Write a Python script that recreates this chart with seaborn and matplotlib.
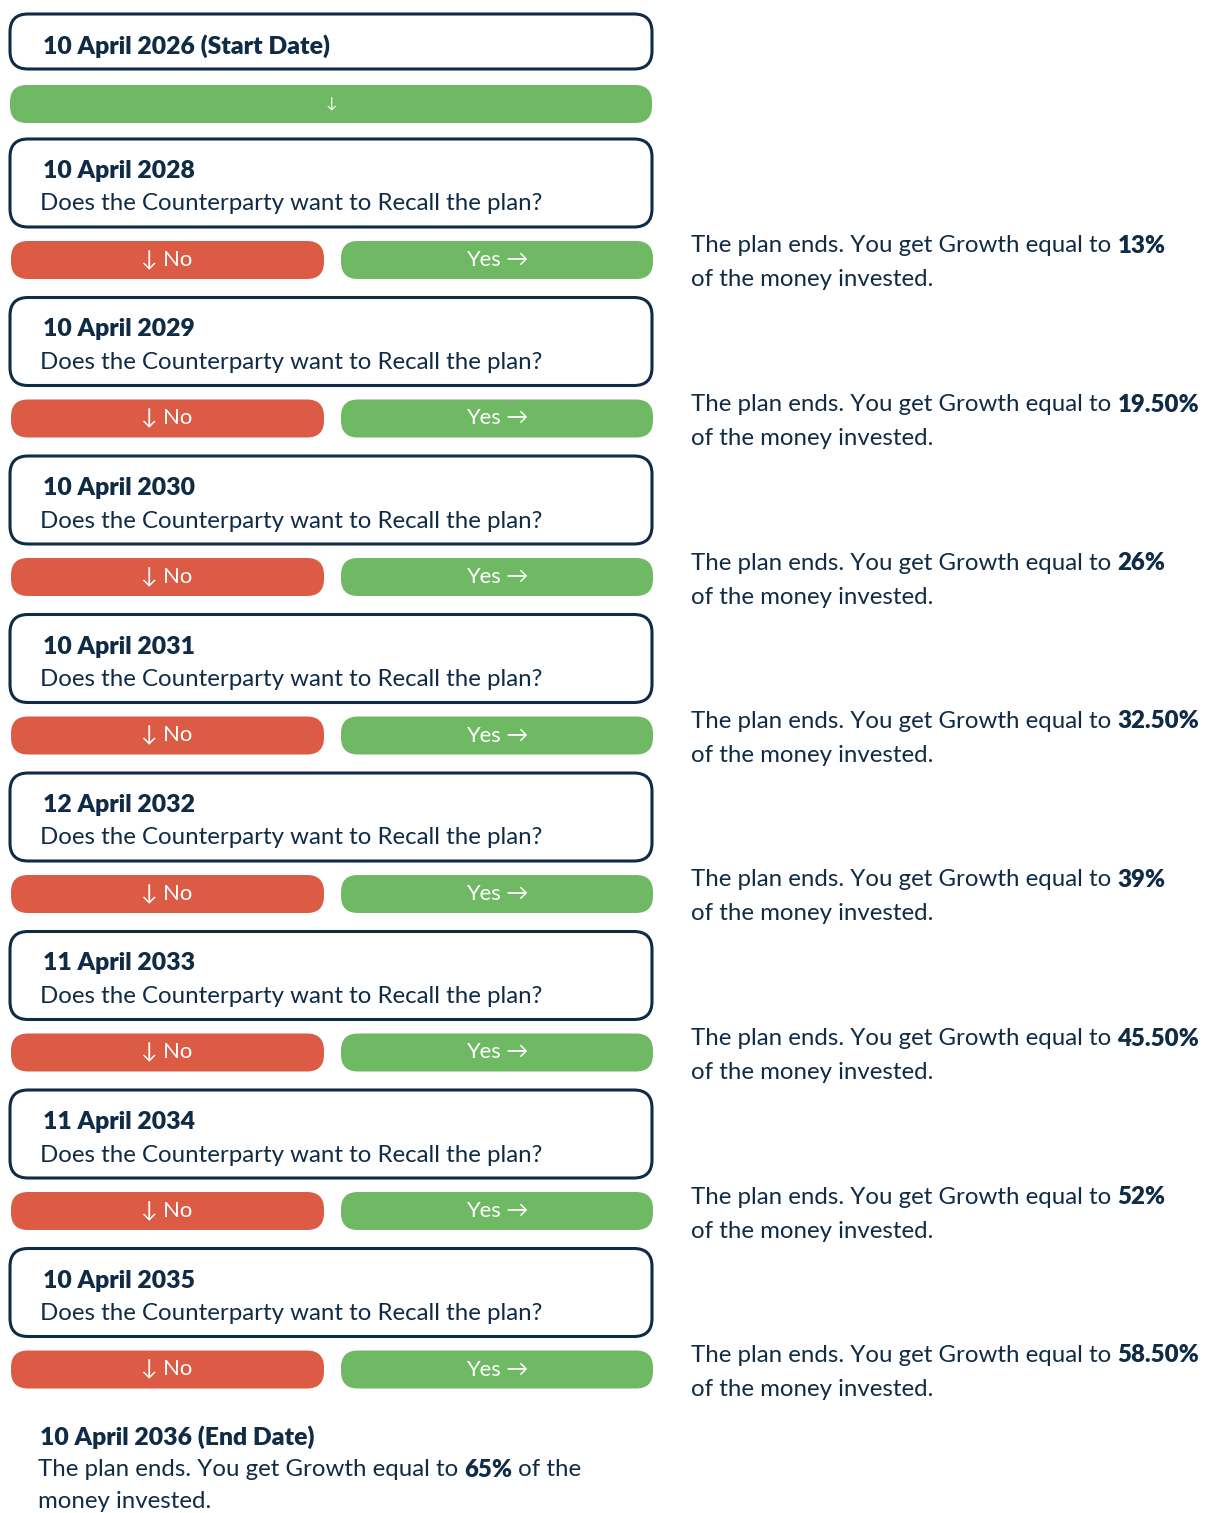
import matplotlib
matplotlib.use("Agg")
import matplotlib.pyplot as plt
from matplotlib.patches import FancyBboxPatch
import seaborn as sns

# ---- data ----
start_label = "10 April 2026 (Start Date)"
obs_dates = ["10 April 2028", "10 April 2029", "10 April 2030", "10 April 2031",
             "12 April 2032", "11 April 2033", "11 April 2034", "10 April 2035"]
growth = ["13%", "19.50%", "26%", "32.50%", "39%", "45.50%", "52%", "58.50%"]
question = "Does the Counterparty want to Recall the plan?"
end_label = "10 April 2036 (End Date)"
end_growth = "65%"
no_label = "\u2193 No"
yes_label = "Yes \u2192"

sns.set_theme(style="white")
plt.rcParams['font.family'] = ['Lato', 'DejaVu Sans']

NAVY = "#0f2b46"
RED = "#db5b44"
GREEN = "#70b964"

W, H = 1211, 1513
fig = plt.figure(figsize=(W / 100, H / 100), dpi=100)
ax = fig.add_axes([0, 0, 1, 1])
ax.set_xlim(0, W)
ax.set_ylim(H, 0)
ax.axis("off")

FS = 17.3
FS_B = 17.8
BW = "heavy"


def rbox(x0, y0, w, h, fc, ec=None, lw=0, r=18):
    p = FancyBboxPatch((x0, y0), w, h,
                       boxstyle=f"round,pad=0,rounding_size={r}",
                       fc=fc, ec=ec if ec else fc, lw=lw, zorder=2)
    ax.add_patch(p)


# start box
rbox(10, 14, 642, 55, "white", NAVY, 2.2)
ax.text(43, 46, start_label, fontsize=FS_B, fontweight=BW, color=NAVY,
        va="center", ha="left", zorder=3)
# green bar
rbox(10, 85, 642, 38, GREEN, r=17)
ax.text(331, 104, "\u2193", fontsize=11, color="white", ha="center", va="center", zorder=3)

fig.canvas.draw()
renderer = fig.canvas.get_renderer()
inv = ax.transData.inverted()


def rich(x, y, parts, fs=FS):
    """parts: list of (text, bold)"""
    cx = x
    for txt, bold in parts:
        t = ax.text(cx, y, txt, fontsize=fs, color=NAVY,
                    fontweight=BW if bold else "normal",
                    va="center", ha="left", zorder=3)
        bb = t.get_window_extent(renderer=renderer)
        cx = inv.transform((bb.x1, bb.y0))[0]


step = 158.5
for i, (d, g) in enumerate(zip(obs_dates, growth)):
    top = 139 + i * step
    rbox(10, top, 642, 88, "white", NAVY, 2.2)
    ax.text(43, top + 32, d, fontsize=FS_B, fontweight=BW, color=NAVY,
            va="center", ha="left", zorder=3)
    ax.text(40, top + 65, question, fontsize=FS, color=NAVY,
            va="center", ha="left", zorder=3)
    btop = top + 102
    rbox(11, btop, 313, 38, RED, r=17)
    rbox(341, btop, 312, 38, GREEN, r=17)
    ax.text(167, btop + 19, no_label, fontsize=FS - 1.5, color="white",
            ha="center", va="center", zorder=3)
    ax.text(497, btop + 19, yes_label, fontsize=FS - 1.5, color="white",
            ha="center", va="center", zorder=3)
    rich(691, btop + 5, [("The plan ends. You get Growth equal to ", False), (g, True)])
    ax.text(691, btop + 39, "of the money invested.", fontsize=FS, color=NAVY,
            va="center", ha="left", zorder=3)

# end
ax.text(40, 1437, end_label, fontsize=FS_B, fontweight=BW, color=NAVY,
        va="center", ha="left", zorder=3)
rich(38, 1470, [("The plan ends. You get Growth equal to ", False), (end_growth, True),
                (" of the", False)])
ax.text(38, 1502, "money invested.", fontsize=FS, color=NAVY,
        va="center", ha="left", zorder=3)

fig.savefig("out.png", dpi=100, facecolor="white")
